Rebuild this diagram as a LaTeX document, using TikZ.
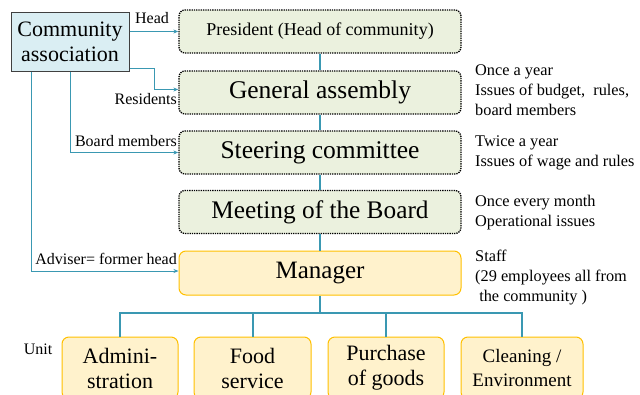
\documentclass[tikz,border=0pt]{standalone}
\usepackage{fontspec}
\setmainfont{Liberation Serif}
\usetikzlibrary{arrows.meta}
\definecolor{teal1}{HTML}{3A98B2}
\definecolor{greenfill}{HTML}{EBF1DE}
\definecolor{bluefill}{HTML}{DAEEF3}
\definecolor{mgrfill}{HTML}{FFF2CC}
\definecolor{mgrline}{HTML}{FFC000}
\newcommand{\fs}[2]{\fontsize{#1}{#2}\selectfont}
\tikzset{
  body/.style={draw=black, densely dotted, line width=1.3pt, fill=greenfill,
    rounded corners=6pt, minimum width=282pt, minimum height=43pt, inner sep=0pt},
  staffbox/.style={draw=mgrline, line width=1pt, fill=mgrfill,
    rounded corners=7pt, inner sep=0pt},
  tree/.style={draw=teal1, line width=2pt},
  link/.style={draw=teal1, line width=1pt, -{Stealth[length=5pt,width=4pt]}},
  lbl/.style={inner sep=0pt, font=\fs{16}{18}},
  note/.style={inner sep=0pt, align=left, anchor=north west, font=\fs{16.3}{20}},
}
\begin{document}
\begin{tikzpicture}[x=1pt,y=-1pt]
\useasboundingbox (0,0) rectangle (640,394);
\clip (0,0) rectangle (640,394);

% governing bodies
\node[body, font=\fs{18}{21}] (pres) at (320,31.5) {President (Head of community)};
\node[body, font=\fs{25.5}{29}] (gen) at (320,92.5) {General assembly};
\node[body, font=\fs{25.5}{29}] (steer) at (320,152.5) {Steering committee};
\node[body, font=\fs{25.3}{29}] (board) at (320,212) {Meeting of the Board};
\node[staffbox, minimum width=282pt, minimum height=44pt, font=\fs{25}{29}] (mgr) at (320,273) {Manager};

% community association
\node[draw=black!75, line width=1pt, fill=bluefill, minimum width=118pt, minimum height=59pt,
  inner sep=0pt, align=center, font=\fs{22}{25}] (ca) at (70,41.5) {Community\\association};

% units
\node[staffbox, minimum width=116pt, minimum height=62pt, align=center, font=\fs{22}{25}] (u1) at (120,368) {Admini-\\stration};
\node[staffbox, minimum width=117pt, minimum height=62pt, align=center, font=\fs{22}{25}] (u2) at (252.5,368) {Food\\service};
\node[staffbox, minimum width=116pt, minimum height=62pt, align=center, font=\fs{22}{25}] (u3) at (386,368) {Purchase\\of goods};
\node[staffbox, minimum width=122pt, minimum height=62pt, align=center, font=\fs{19}{24}] (u4) at (522,368) {Cleaning /\\Environment};

% vertical chain
\draw[tree] (pres.south) -- (gen.north);
\draw[tree] (gen.south) -- (steer.north);
\draw[tree] (steer.south) -- (board.north);
\draw[tree] (board.south) -- (mgr.north);
\draw[tree] (mgr.south) -- ++(0,17) coordinate (bus);
\draw[tree] (u1.north) -- (u1.north |- bus) -- (u4.north |- bus) -- (u4.north);
\draw[tree] (u2.north) -- (u2.north |- bus);
\draw[tree] (u3.north) -- (u3.north |- bus);

% links from the association
\draw[link] (ca.east |- pres.west) -- (pres.west);
\draw[link] ([yshift=3pt]ca.south east) -| ([xshift=-24pt,yshift=3pt]gen.west) -- ([yshift=3pt]gen.west);
\draw[link] (ca.south) |- (steer.west);
\draw[link] ([xshift=-39pt]ca.south) |- ([yshift=2pt]mgr.west);

% link labels
\node[lbl] (lhead) at (152,18) {Head};
\node[lbl, anchor=east] (lres) at (177,99) {Residents};
\node[lbl, anchor=east] (lbm) at (177,141) {Board members};
\node[lbl, anchor=east] (ladv) at (177,259) {Adviser= former head};
\node[lbl] (lunit) at (38,349) {Unit};

% notes
\node[note] (n1) at (475,65) {Once a year\\Issues of budget,\ \ rules,\\board members};
\node[note] (n2) at (475,136) {Twice a year\\Issues of wage and rules};
\node[note] (n3) at (475,195) {Once every month\\Operational issues};
\node[note] (n4) at (475,250) {Staff\\(29 employees all from\\\ the community )};
\end{tikzpicture}
\end{document}
